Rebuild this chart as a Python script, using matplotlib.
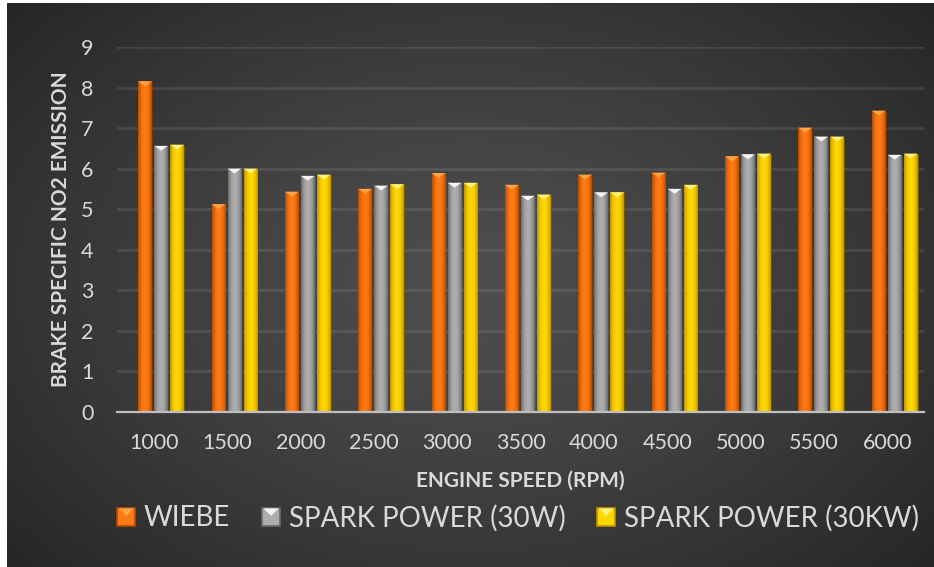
import numpy as np
import matplotlib
matplotlib.use("Agg")
import matplotlib.pyplot as plt
from matplotlib.patches import Rectangle, Polygon
from matplotlib.legend_handler import HandlerPatch
from matplotlib.colors import to_rgb

speeds = ["1000", "1500", "2000", "2500", "3000", "3500",
          "4000", "4500", "5000", "5500", "6000"]
wiebe = [8.15, 5.12, 5.43, 5.50, 5.89, 5.60, 5.85, 5.90, 6.30, 7.01, 7.43]
spark_30w = [6.56, 6.00, 5.82, 5.58, 5.65, 5.33, 5.41, 5.50, 6.35, 6.79, 6.34]
spark_30kw = [6.59, 6.00, 5.85, 5.61, 5.65, 5.36, 5.41, 5.60, 6.37, 6.79, 6.37]

series = [
    ("WIEBE", wiebe),
    ("SPARK POWER (30W)", spark_30w),
    ("SPARK POWER (30KW)", spark_30kw),
]
# (edge colour, centre colour, bevel colour)
styles = [
    ("#b44a00", "#ff7a14", "#ffa347"),
    ("#6a6a6a", "#adadad", "#f4f4f4"),
    ("#c09200", "#ffd800", "#fff27a"),
]
TEXT = "#d9d9d9"

plt.rcParams["font.family"] = ["Lato", "DejaVu Sans"]


def shade_row(edge, mid, n=40):
    t = np.linspace(0, 1, n)
    w = 1 - np.abs(2 * t - 1) ** 2.2
    e, m = np.array(to_rgb(edge)), np.array(to_rgb(mid))
    return (e + (m - e) * w[:, None])[None, :, :]


fig = plt.figure(figsize=(9.34, 5.67), dpi=100)

# radial dark background
bg = fig.add_axes([7 / 934, 0, 1 - 7 / 934, 1 - 3 / 567])
bg.set_axis_off()
yy, xx = np.mgrid[0:1:300j, 0:1:500j]
r = np.sqrt(((xx - 0.5) / 0.55) ** 2 + ((yy - 0.5) / 0.62) ** 2)
r = np.clip(r / r.max(), 0, 1)
c0, c1 = np.array(to_rgb("#4e4e4e")), np.array(to_rgb("#262626"))
img = c0 + (c1 - c0) * (r ** 1.3)[..., None]
bg.imshow(img, aspect="auto", extent=(0, 1, 0, 1), interpolation="bilinear")
bg.set_xlim(0, 1)
bg.set_ylim(0, 1)

ax = fig.add_axes([117 / 934, 1 - 411.7 / 567, 807 / 934, 364.7 / 567])
ax.set_facecolor("none")

x = np.arange(len(speeds))
width = 0.187
step = 0.218
shift = 0.1
cap = 0.12

for k, ((name, vals), (edge, mid, bev)) in enumerate(zip(series, styles)):
    bars = ax.bar(x + shift + (k - 1) * step, vals, width, color=mid,
                  edgecolor=(0, 0, 0, 0.35), linewidth=0.8, zorder=3, label=name)
    grad = shade_row(edge, mid)
    for p in bars.patches:
        x0, w, h = p.get_x(), p.get_width(), p.get_height()
        im = ax.imshow(grad, extent=(x0, x0 + w, 0, h), aspect="auto",
                       interpolation="bilinear", zorder=3.1)
        im.set_clip_path(p)
        ax.add_patch(Polygon([(x0, h), (x0 + w, h), (x0 + w / 2, h - cap)],
                             closed=True, facecolor=bev, edgecolor="none",
                             zorder=3.2))

ax.set_xlim(-0.5, len(speeds) - 0.5)
ax.set_ylim(0, 9)
ax.set_yticks(range(10))
ax.set_xticks(x)
ax.set_xticklabels(speeds)
ax.grid(axis="y", color="white", alpha=0.1, linewidth=1.8, zorder=0)
ax.set_axisbelow(True)
for s in ["top", "right", "left"]:
    ax.spines[s].set_visible(False)
ax.spines["bottom"].set_color("#bfbfbf")
ax.spines["bottom"].set_linewidth(1.6)
ax.spines["bottom"].set_zorder(4)
ax.tick_params(axis="y", length=0, pad=17, labelsize=15.5, labelcolor=TEXT)
ax.tick_params(axis="x", length=0, pad=15, labelsize=15.5, labelcolor=TEXT)

ax.set_xlabel("ENGINE SPEED (RPM)", fontsize=15, fontweight="bold", color=TEXT)
ax.xaxis.set_label_coords(0.5, -0.163)
ax.set_ylabel("BRAKE SPECIFIC NO2 EMISSION", fontsize=15, fontweight="bold",
              color=TEXT)
ax.yaxis.set_label_coords(-0.057, 0.5)


class BevelHandler(HandlerPatch):
    def __init__(self, edge, mid, bev):
        super().__init__()
        self.cols = (edge, mid, bev)

    def create_artists(self, legend, orig_handle, xdescent, ydescent,
                       width, height, fontsize, trans):
        edge, mid, bev = self.cols
        side = min(width, height)
        x0 = -xdescent + (width - side) / 2
        y0 = -ydescent + (height - side) / 2
        sq = Rectangle((x0, y0), side, side, facecolor=mid, edgecolor=edge,
                       linewidth=1.2, transform=trans)
        tri = Polygon([(x0 + 1, y0 + side - 0.5), (x0 + side - 1, y0 + side - 0.5),
                       (x0 + side / 2, y0 + side * 0.55)], closed=True,
                      facecolor=bev, edgecolor="none", transform=trans)
        return [sq, tri]


handles = [Rectangle((0, 0), 1, 1) for _ in series]
leg = fig.legend(handles, [s[0] for s in series], loc="center",
                 bbox_to_anchor=(518 / 934, 1 - 518 / 567), ncol=3,
                 frameon=False, fontsize=20, labelcolor=TEXT,
                 handlelength=0.65, handleheight=0.65, handletextpad=0.3,
                 columnspacing=1.15,
                 handler_map={h: BevelHandler(*st) for h, st in zip(handles, styles)})

fig.savefig("out.png", dpi=100)
